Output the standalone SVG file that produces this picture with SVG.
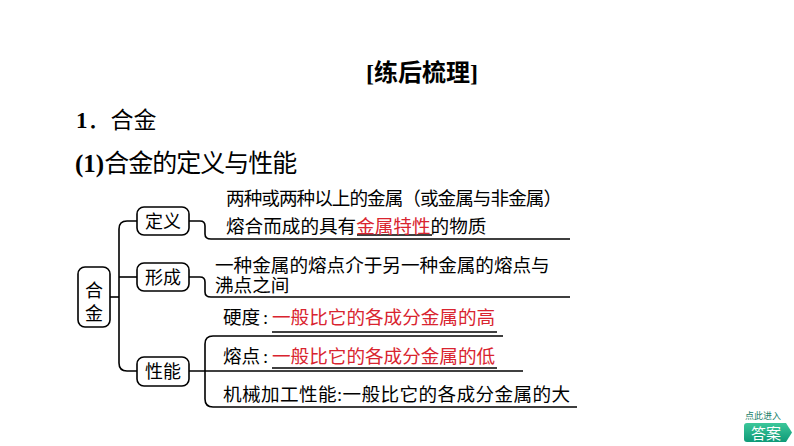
<svg xmlns="http://www.w3.org/2000/svg" width="794" height="446" viewBox="0 0 794 446">
<defs>
<style>
.t{font-family:"Liberation Serif","Noto Sans CJK SC",serif;fill:#000;}
.b{font-size:18.6px;}
.r{fill:#d9242f;}
.n{fill:#fff;stroke:#000;stroke-width:1.6;}
.c{fill:none;stroke:#000;stroke-width:1.6;}
.u{fill:none;stroke:#000;stroke-width:1.3;}
</style>
<linearGradient id="g" x1="0" y1="0" x2="0" y2="1">
<stop offset="0" stop-color="#3cc79a"/>
<stop offset="1" stop-color="#0f9a78"/>
</linearGradient>
</defs>
<rect width="794" height="446" fill="#fff"/>
<text class="t" x="366" y="81" font-size="24" font-weight="bold">[练后梳理]</text>
<text class="t" x="76" y="128" font-size="23"><tspan font-weight="bold">1</tspan>．合金</text>
<text class="t" x="75" y="172" font-size="25"><tspan font-weight="bold">(1)</tspan><tspan textLength="193" lengthAdjust="spacing">合金的定义与性能</tspan></text>

<g id="connectors">
<path class="c" d="M110 297 H119"/>
<path class="c" d="M137 221 H127 Q119 221 119 229 V363 Q119 371 127 371 H137"/>
<path class="c" d="M119 277 H137"/>
<path class="c" d="M189 221 H200 Q205 221 205 226 V234 Q205 239 211 239 H570"/>
<path class="c" d="M189 277 H200 Q205 277 205 282 V292 Q205 297 211 297 H570"/>
<path class="c" d="M503 336 H213 Q205 336 205 344 V399 Q205 407 213 407 H577"/>
<path class="c" d="M189 371 H523"/>
<path class="u" d="M357 235 H432"/>
<path class="u" d="M272 332 H497"/>
<path class="u" d="M272 368 H497" stroke="#444"/>
</g>

<g id="hejin">
<rect class="n" x="78" y="267" width="32" height="60" rx="7"/>
<text class="t" x="94" y="297" font-size="18" text-anchor="middle">合</text>
<text class="t" x="94" y="320" font-size="18" text-anchor="middle">金</text>
</g>
<g id="dingyi">
<rect class="n" x="137" y="207" width="52" height="28" rx="7"/>
<text class="t" x="163" y="227.5" font-size="18" text-anchor="middle">定义</text>
</g>
<g id="xingcheng">
<rect class="n" x="137" y="263" width="52" height="28" rx="7"/>
<text class="t" x="163" y="283.5" font-size="18" text-anchor="middle">形成</text>
</g>
<g id="xingneng">
<rect class="n" x="137" y="357" width="52" height="29" rx="7"/>
<text class="t" x="163" y="377.5" font-size="18" text-anchor="middle">性能</text>
</g>

<g id="dingyi-text">
<text class="t b" x="226" y="205" textLength="336" lengthAdjust="spacing">两种或两种以上的金属（或金属与非金属）</text>
<text class="t b" x="226" y="233">熔合而成的具有<tspan class="r">金属特性</tspan>的物质</text>
</g>
<g id="xingcheng-text">
<text class="t b" x="215" y="272">一种金属的熔点介于另一种金属的熔点与</text>
<text class="t b" x="215" y="292">沸点之间</text>
</g>
<g id="xingneng-text">
<text class="t b" x="223" y="324">硬度<tspan x="263">:</tspan></text>
<text class="t b r" x="272" y="324">一般比它的各成分金属的高</text>
<text class="t b" x="223" y="363">熔点<tspan x="263">:</tspan></text>
<text class="t b r" x="272" y="363">一般比它的各成分金属的低</text>
<text class="t b" x="223" y="401" textLength="347" lengthAdjust="spacing">机械加工性能:一般比它的各成分金属的大</text>
</g>

<g id="answer">
<text x="763" y="419" font-size="9" text-anchor="middle" fill="#1a7f6a" font-family="Noto Sans CJK SC, sans-serif">点此进入</text>
<path d="M747 423 H786 L792 432.5 L786 442 H747 Q744 442 744 439 V426 Q744 423 747 423 Z" fill="url(#g)"/>
<text x="766" y="438.5" font-size="15" text-anchor="middle" fill="#fff" font-family="Noto Sans CJK SC, sans-serif">答案</text>
</g>
</svg>
